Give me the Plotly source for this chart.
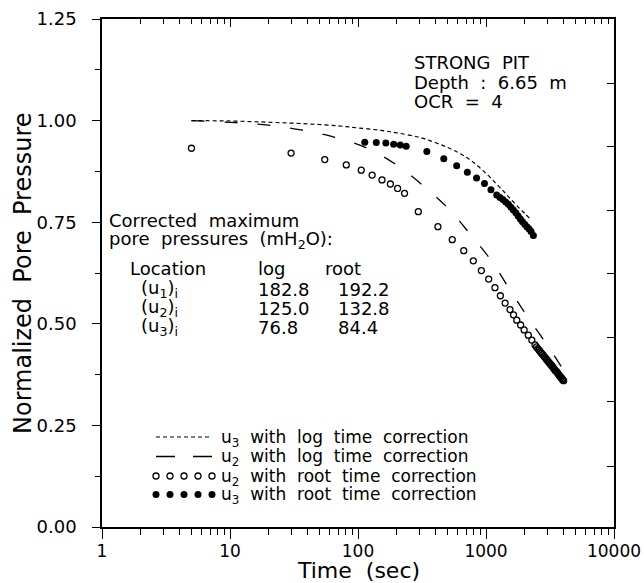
import plotly.graph_objects as go

# ---------------- data ----------------
u3_log_t = [5, 10, 20, 40, 70, 100, 150, 200, 300, 400, 500, 600, 700, 800, 1000, 1200, 1400, 1600, 1800, 2000, 2200]
u3_log_p = [1.000, 0.999, 0.996, 0.992, 0.987, 0.982, 0.976, 0.970, 0.959, 0.946, 0.934, 0.922, 0.910, 0.897, 0.870, 0.845, 0.823, 0.803, 0.786, 0.772, 0.759]

u2_log_t = [5, 11, 20, 36, 66, 118, 200, 328, 514, 750, 1114, 1541, 2142, 3050, 4000]
u2_log_p = [1.000, 0.995, 0.989, 0.977, 0.959, 0.932, 0.891, 0.838, 0.782, 0.721, 0.653, 0.583, 0.514, 0.445, 0.388]

u2_root_t = [5, 30, 55, 81, 106, 129, 154, 179, 204, 231, 296, 421, 545, 670, 796, 920, 1050, 1175,
             1295, 1410, 1540, 1640, 1740, 1865, 1985, 2140, 2280, 2415,
             2480, 2540, 2600, 2660, 2720, 2780, 2840, 2900, 2960, 3020, 3080, 3140, 3200, 3260,
             3320, 3380, 3440, 3500, 3560, 3620, 3680, 3740, 3800, 3860, 3920, 3980, 4040]
u2_root_p = [0.932, 0.920, 0.904, 0.891, 0.878, 0.866, 0.854, 0.844, 0.833, 0.821, 0.776, 0.739, 0.707, 0.680, 0.655, 0.631, 0.610, 0.589,
             0.569, 0.551, 0.535, 0.522, 0.509, 0.497, 0.485, 0.472, 0.460, 0.448,
             0.443, 0.439, 0.435, 0.431, 0.427, 0.424, 0.420, 0.417, 0.413, 0.410, 0.406, 0.403, 0.400, 0.397,
             0.394, 0.390, 0.387, 0.384, 0.382, 0.379, 0.376, 0.373, 0.370, 0.368, 0.365, 0.362, 0.360]

u3_root_t = [113, 139, 165, 190, 214, 238, 345, 468, 590, 715, 844, 973, 1093, 1213, 1285, 1355, 1425, 1495,
             1565, 1636, 1710, 1781, 1855, 1928, 2005, 2087, 2170, 2250, 2345]
u3_root_p = [0.947, 0.946, 0.945, 0.942, 0.940, 0.937, 0.924, 0.906, 0.889, 0.873, 0.859, 0.845, 0.830, 0.817, 0.811, 0.806, 0.800, 0.794,
             0.787, 0.780, 0.773, 0.765, 0.758, 0.751, 0.745, 0.739, 0.733, 0.727, 0.717]

x_major = [1, 10, 100, 1000, 10000]
x_major_text = ["1", "10", "100", "1000", "10000"]
x_minor = [m * d for d in [1, 10, 100, 1000] for m in range(2, 10)]
y_major = [0.0, 0.25, 0.50, 0.75, 1.00, 1.25]
y_major_text = ["0.00", "0.25", "0.50", "0.75", "1.00", "1.25"]
y_minor = [0.125, 0.375, 0.625, 0.875, 1.125]
y_right_ticks = [0.150, 0.308, 0.466, 0.623, 0.779, 0.936, 1.092]

legend_labels = ["u<sub>3</sub>  with  log  time  correction",
                 "u<sub>2</sub>  with  log  time  correction",
                 "u<sub>2</sub>  with  root  time  correction",
                 "u<sub>3</sub>  with  root  time  correction"]

table_rows = ["(u<sub>1</sub>)<sub>i</sub>", "(u<sub>2</sub>)<sub>i</sub>", "(u<sub>3</sub>)<sub>i</sub>"]
table_log = ["182.8", "125.0", "76.8"]
table_root = ["192.2", "132.8", "84.4"]

# ---------------- layout helpers ----------------
W, H = 644, 583
L, R, T, B = 102, 30, 19, 56
PW, PH = W - L - R, H - T - B
FONT = "DejaVu Sans"


def px(xp):
    return (xp - L) / PW


def py(yp):
    return (H - B - yp) / PH


fig = go.Figure()

# data series
fig.add_trace(go.Scatter(x=u3_log_t, y=u3_log_p, mode="lines",
                         line=dict(color="black", width=1.2, dash="4px,3px", shape="spline")))
fig.add_trace(go.Scatter(x=u2_log_t, y=u2_log_p, mode="lines",
                         line=dict(color="black", width=1.3, dash="13px,20px", shape="spline")))
fig.add_trace(go.Scatter(x=u2_root_t, y=u2_root_p, mode="markers",
                         marker=dict(symbol="circle-open", size=6, color="black", line=dict(width=1.3))))
fig.add_trace(go.Scatter(x=u3_root_t, y=u3_root_p, mode="markers",
                         marker=dict(symbol="circle", size=7, color="black")))

# dummy trace to register mirrored axes
fig.add_trace(go.Scatter(x=[], y=[], xaxis="x2", yaxis="y2", hoverinfo="skip"))

# legend keys on a helper [0,1] axis pair
key_x0, key_x1 = px(156), px(212)
key_rows = [py(437), py(456.5), py(476), py(494.5)]
key_marker_x = [key_x0 + i * (key_x1 - key_x0) / 4 for i in range(5)]
fig.add_trace(go.Scatter(x=[key_x0, key_x1], y=[key_rows[0]] * 2, xaxis="x3", yaxis="y3", mode="lines",
                         line=dict(color="black", width=1.2, dash="4px,3px")))
fig.add_trace(go.Scatter(x=[key_x0, key_x1], y=[key_rows[1]] * 2, xaxis="x3", yaxis="y3", mode="lines",
                         line=dict(color="black", width=1.3, dash="19px,18px")))
fig.add_trace(go.Scatter(x=key_marker_x, y=[key_rows[2]] * 5, xaxis="x3", yaxis="y3", mode="markers",
                         marker=dict(symbol="circle-open", size=6, color="black", line=dict(width=1.3))))
fig.add_trace(go.Scatter(x=key_marker_x, y=[key_rows[3]] * 5, xaxis="x3", yaxis="y3", mode="markers",
                         marker=dict(symbol="circle", size=7, color="black")))

annotations = []


def add_text(text, xp, yp, size=18, xanchor="left"):
    annotations.append(dict(text=text, x=px(xp), y=py(yp), xref="paper", yref="paper",
                            xanchor=xanchor, yanchor="middle", showarrow=False, borderpad=0,
                            font=dict(family=FONT, size=size, color="black")))


for lab, yy in zip(legend_labels, [437, 456.5, 476, 494.5]):
    add_text(lab, 220, yy + 1, size=17)

add_text("STRONG  PIT", 413, 63, size=18)
add_text("Depth  :  6.65  m", 413, 82, size=18)
add_text("OCR  =  4", 413, 101, size=18)

add_text("Corrected  maximum", 108, 221, size=18)
add_text("pore  pressures  (mH<sub>2</sub>O):", 108, 240, size=18)
add_text("Location", 129, 268, size=18)
add_text("log", 257, 268, size=18)
add_text("root", 324, 268, size=18)
for i, (r, a, b) in enumerate(zip(table_rows, table_log, table_root)):
    yy = 289 + i * 19
    add_text(r, 140, yy, size=18)
    add_text(a, 257, yy, size=18)
    add_text(b, 337, yy, size=18)

# axis titles
annotations.append(dict(text="Normalized  Pore  Pressure", x=0, y=0.5, xref="paper", yref="paper",
                        xanchor="center", yanchor="middle", xshift=23 - L, textangle=-90, showarrow=False,
                        font=dict(family=FONT, size=24, color="black")))
annotations.append(dict(text="Time  (sec)", x=0.5, y=0, xref="paper", yref="paper",
                        xanchor="center", yanchor="middle", yshift=-(570 - (H - B)), showarrow=False,
                        borderpad=0, font=dict(family=FONT, size=22, color="black")))

axis_common = dict(showgrid=False, zeroline=False, showline=True, linecolor="black", linewidth=1.5,
                   tickcolor="black", automargin=False)

fig.update_layout(
    width=W, height=H,
    margin=dict(l=L, r=R, t=T, b=B, pad=0),
    paper_bgcolor="white", plot_bgcolor="white",
    showlegend=False,
    annotations=annotations,
    xaxis=dict(type="log", range=[0, 4], ticks="outside", ticklen=10, tickwidth=1.3,
               tickvals=x_major, ticktext=x_major_text,
               tickfont=dict(family=FONT, size=17, color="black"),
               ticklabelstandoff=-2,
               minor=dict(ticks="outside", ticklen=6, tickwidth=1.1, tickcolor="black",
                          tickvals=x_minor, showgrid=False),
               **axis_common),
    xaxis2=dict(type="log", range=[0, 4], overlaying="x", side="top", anchor="y",
                ticks="inside", ticklen=8, tickwidth=1.2, tickvals=x_major, showticklabels=False,
                minor=dict(ticks="inside", ticklen=5, tickwidth=1.1, tickcolor="black",
                           tickvals=x_minor, showgrid=False),
                **axis_common),
    yaxis=dict(range=[0, 1.25], ticks="outside", ticklen=8, tickwidth=1.3,
               tickvals=y_major, ticktext=y_major_text,
               tickfont=dict(family=FONT, size=18, color="black"),
               ticklabelstandoff=12,
               minor=dict(ticks="outside", ticklen=5, tickwidth=1.1, tickcolor="black",
                          tickvals=y_minor, showgrid=False),
               **axis_common),
    yaxis2=dict(range=[0, 1.25], overlaying="y", side="right", anchor="x",
                ticks="inside", ticklen=7, tickwidth=1.2, tickvals=y_right_ticks, showticklabels=False,
                **axis_common),
    xaxis3=dict(range=[0, 1], overlaying="x", visible=False, fixedrange=True),
    yaxis3=dict(range=[0, 1], overlaying="y", visible=False, fixedrange=True),
)

# remove the browser's default 8px body margin so the figure sits at the window origin
fig.write_html("out.html", config={"displayModeBar": False},
               post_script="document.body.style.margin='0';document.body.style.overflow='hidden';")
